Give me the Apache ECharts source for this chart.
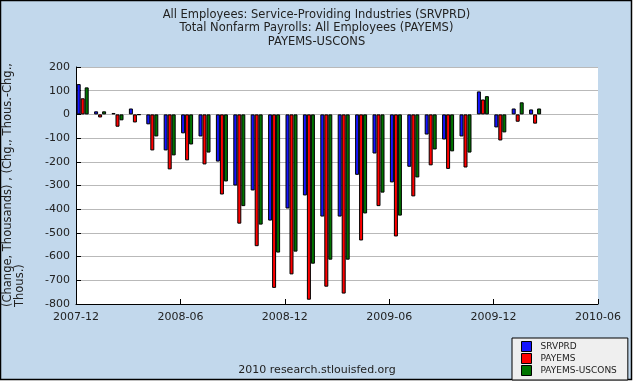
<!DOCTYPE html>
<html>
<head>
<meta charset="utf-8">
<script src="https://cdn.jsdelivr.net/npm/echarts@6/dist/echarts.min.js"></script>
<style>
html,body{margin:0;padding:0;background:#fff;}
#c{width:633px;height:384px;}
</style>
</head>
<body>
<div id="c"></div>
<script>
// Months with data (bars)
var barMonths = ['2007-12','2008-01','2008-02','2008-03','2008-04','2008-05','2008-06','2008-07','2008-08','2008-09','2008-10','2008-11',
  '2008-12','2009-01','2009-02','2009-03','2009-04','2009-05','2009-06','2009-07','2009-08','2009-09','2009-10','2009-11',
  '2009-12','2010-01','2010-02','2010-03','2010-04','2010-05'];
// Axis months (tick positions, month boundaries)
var axisMonths = barMonths.concat(['2010-06']);
var srvprd = [128, 13, 6, 25, -42, -152, -80, -93, -199, -300, -321, -448,
  -397, -342, -431, -431, -255, -165, -287, -221, -85, -106, -93, 97,
  -55, 25, 21, null, null, null];
var payems = [68, -13, -52, -34, -152, -232, -194, -211, -338, -461, -556, -732,
  -675, -782, -727, -756, -532, -387, -515, -346, -215, -230, -224, 63,
  -110, -31, -39, null, null, null];
var payemsUscons = [114, 13, -25, -2, -93, -173, -127, -161, -283, -387, -465, -583,
  -579, -630, -613, -613, -418, -330, -427, -266, -148, -156, -161, 77,
  -76, 51, 25, null, null, null];
var seriesNames = ['SRVPRD', 'PAYEMS', 'PAYEMS-USCONS'];
var colors = ['#1414ff', '#ff0000', '#007400'];
var titleLines = ['All Employees: Service-Providing Industries (SRVPRD)',
  'Total Nonfarm Payrolls: All Employees (PAYEMS)', 'PAYEMS-USCONS'];
var yNameLines = ['(Change, Thousands) , (Chg., Thous.-Chg.,', 'Thous.)'];
var footer = '2010 research.stlouisfed.org';

var FONT = 'DejaVu Sans';
var chart = echarts.init(document.getElementById('c'), null, {renderer: 'canvas'});

function barSeries(name, data, color) {
  return {
    name: name, type: 'bar', xAxisIndex: 0, data: data,
    barWidth: 4, barGap: '0%',
    itemStyle: {color: color, borderColor: '#000', borderWidth: 1},
    emphasis: {disabled: true},
    animation: false
  };
}

var option = {
  animation: false,
  backgroundColor: 'transparent',
  title: {
    text: titleLines.join('\n'),
    left: 'center', top: 3,
    textStyle: {fontFamily: FONT, fontSize: 11.5, fontWeight: 'normal', color: '#222', lineHeight: 13.5}
  },
  grid: {left: 76, right: 35, top: 67, bottom: 80, show: true, backgroundColor: '#fff', borderWidth: 0},
  legend: {
    orient: 'vertical', left: 512, top: 338,
    backgroundColor: '#efefef', borderColor: '#000', borderWidth: 1,
    padding: [3, 11, 4, 9],
    itemWidth: 10, itemHeight: 10, itemGap: 1,
    icon: 'rect',
    textStyle: {fontFamily: FONT, fontSize: 9, color: '#222', padding: [0, 0, 0, 4]},
    data: seriesNames.map(function (n, i) {
      return {name: n, itemStyle: {color: colors[i], borderColor: '#000', borderWidth: 1}};
    })
  },
  xAxis: [
    {type: 'category', data: barMonths, boundaryGap: true, show: false},
    {
      type: 'category', data: axisMonths, boundaryGap: false, position: 'bottom',
      axisLine: {show: true, lineStyle: {color: '#000', width: 1}},
      axisTick: {show: true, inside: true, length: 5, interval: 5, lineStyle: {color: '#000'}},
      axisLabel: {interval: 5, margin: 8, fontFamily: FONT, fontSize: 11, color: '#222'},
      splitLine: {show: false}
    }
  ],
  yAxis: {
    type: 'value', min: -800, max: 200, interval: 100,
    axisLine: {show: true, lineStyle: {color: '#000', width: 1}},
    axisTick: {show: true, inside: true, length: 5, lineStyle: {color: '#000'}},
    axisLabel: {margin: 6, fontFamily: FONT, fontSize: 11, color: '#222'},
    splitLine: {show: true, lineStyle: {color: '#b9b9b9', width: 1}}
  },
  series: [
    barSeries(seriesNames[0], srvprd, colors[0]),
    barSeries(seriesNames[1], payems, colors[1]),
    barSeries(seriesNames[2], payemsUscons, colors[2]),
    // empty spacer slot so the three bars start at the month boundary
    {name: 'spacer', type: 'bar', xAxisIndex: 0, data: [], barWidth: 4, barGap: '0%', silent: true}
  ],
  graphic: [
    {type: 'rect', z: -10, silent: true, shape: {x: 0.5, y: 0.5, width: 631, height: 379},
      style: {fill: '#c2d8ec', stroke: '#000', lineWidth: 1.5}},
    {type: 'text', x: 2, y: 307, rotation: Math.PI / 2, silent: true,
      style: {text: yNameLines.join('\n'), font: '11.5px "DejaVu Sans"', fill: '#222', lineHeight: 12,
        textAlign: 'left', textVerticalAlign: 'top'}},
    {type: 'text', x: 317, y: 370, silent: true,
      style: {text: footer, font: '11px "DejaVu Sans"', fill: '#222', textAlign: 'center', textVerticalAlign: 'middle'}}
  ]
};
chart.setOption(option);
</script>
</body>
</html>
